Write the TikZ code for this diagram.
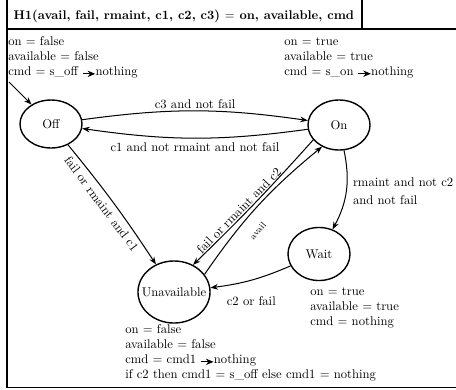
\documentclass[tikz,border=0pt]{standalone}
\usepackage{tikz}
\usetikzlibrary{shapes.geometric}
\usetikzlibrary{arrows.meta}

\newcommand{\cmdarrow}{\tikz[baseline=-0.35ex]\draw[line width=0.6pt, -{Stealth[length=6pt, width=5pt]}] (0pt,0pt) -- (10pt,0pt);}

\begin{document}
\begin{tikzpicture}[x=0.79pt, y=-0.79pt,
    every node/.style={inner sep=1pt},
    state/.style={ellipse, draw, line width=1.1pt, inner sep=0pt},
    info/.style={anchor=north west, align=left, inner sep=0pt},
    trans/.style={thick, -{Stealth[length=6pt, width=4.5pt]}}]
			\useasboundingbox (0,0) rectangle (456,389);
			% Frame
			\draw[thick] (7,0) -- (7,387) -- (456,387);
			\draw[thick] (7,29) -- (456,29);
			\draw[thick] (362,0) -- (362,29);
			\node[anchor=base west] (title) at (12,19) {\textbf{H1(avail, fail, rmaint, c1, c2, c3) $=$ on, available, cmd}};
			% States
			\node[state, minimum width=49pt, minimum height=37.9pt] (off) at (51,124) {Off};
			\node[state, minimum width=49pt, minimum height=39.5pt] (on) at (339,125) {On};
			\node[state, minimum width=49pt, minimum height=41.9pt] (wait) at (319,254) {Wait};
			\node[state, minimum width=56.9pt, minimum height=49pt, label=center:Unavailable] (unav) at (174,292) {};
			% Outputs
			\node[info] (offout) at (8,36.2) {on $=$ false\\ available $=$ false\\ cmd $=$ s\_off \cmdarrow nothing};
			\node[info] (onout) at (284,37.2) {on $=$ true\\ available $=$ true\\ cmd $=$ s\_on \cmdarrow nothing};
			\node[info] (waitout) at (310,287.2) {on $=$ true\\ available $=$ true\\ cmd $=$ nothing};
			\node[info] (unavout) at (125,324.2) {on $=$ false\\ available $=$ false\\ cmd $=$ cmd1 \cmdarrow nothing\\ if c2 then cmd1 $=$ s\_off else cmd1 $=$ nothing};
			% Transitions with guards
			\coordinate (init) at (9,82);
			\draw[trans] (init) -- (off);
			\draw[trans] (off) to[bend left=8] node[midway, above] {c3 and not fail} (on);
			\draw[trans] (on) to[bend left=8] node[midway, below=2pt] {c1 and not rmaint and not fail} (off);
			\draw[trans] (off) to[bend left=3] node[pos=0.45, below=3pt, sloped] {fail or rmaint and c1} (unav);
			\draw[trans] (on.210) to[bend left=2] node[pos=0.6, above, sloped] {fail or rmaint and c2} (unav.55);
			\draw[trans] (unav.30) to[bend left=8] node[pos=0.38, below=9pt, sloped, font=\scriptsize] {avail} (on.232);
			\draw[trans] (on) to[bend left=20] node[midway, right=4pt, align=left] {rmaint and not c2\\[2pt] and not fail} (wait);
			\draw[trans] (wait) to[bend left=8] node[midway, below=12pt] {c2 or fail} (unav);
		\end{tikzpicture}
\end{document}
